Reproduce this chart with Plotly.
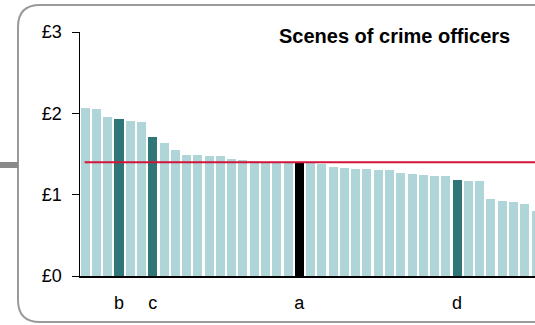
import plotly.graph_objects as go

values = [2.06, 2.05, 1.96, 1.93, 1.91, 1.89, 1.71, 1.63, 1.55, 1.49,
          1.49, 1.48, 1.47, 1.44, 1.43, 1.42, 1.405, 1.40, 1.40, 1.40,
          1.39, 1.38, 1.34, 1.325, 1.316, 1.31, 1.305, 1.30, 1.267, 1.255,
          1.246, 1.23, 1.226, 1.18, 1.17, 1.165, 0.947, 0.92, 0.91, 0.886,
          0.80]
highlight = {3: "#2e7677", 6: "#2e7677", 19: "#000000", 33: "#2e7677"}
label_pos = [3, 6, 19, 33]
label_text = ["b", "c", "a", "d"]
average = 1.40
title = "Scenes of crime officers"
ytick_vals = [0, 1, 2, 3]
ytick_text = ["£0", "£1", "£2", "£3"]

W, H = 535, 325
L, R_edge, T, B = 80, 535, 32, 276

xs = list(range(len(values)))
colors = [highlight.get(i, "#afd5d8") for i in xs]

fig = go.Figure()
fig.add_trace(go.Bar(x=xs, y=values, width=0.8, marker_color=colors,
                     marker_line_width=0, showlegend=False, hoverinfo="skip"))
fig.add_trace(go.Scatter(x=[-0.05, len(values) + 2], y=[average, average], mode="lines",
                         line=dict(color="#d3143a", width=2), showlegend=False,
                         hoverinfo="skip"))

def px2paper(x, y):
    return (x - L) / (R_edge - L), (B - y) / (B - T)

def P(x, y):
    px, py = px2paper(x, y)
    return f"{px:.5f},{py:.5f}"

# rounded border
x0, y0, x1, y1, r = 18, 5, 575, 322, 22
path = (f"M {P(x0 + r, y0)} L {P(x1 - r, y0)} Q {P(x1, y0)} {P(x1, y0 + r)} "
        f"L {P(x1, y1 - r)} Q {P(x1, y1)} {P(x1 - r, y1)} L {P(x0 + r, y1)} "
        f"Q {P(x0, y1)} {P(x0, y1 - r)} L {P(x0, y0 + r)} Q {P(x0, y0)} {P(x0 + r, y0)} Z")
fig.add_shape(type="path", path=path, xref="paper", yref="paper",
              line=dict(color="#9a9a9a", width=2), layer="below")
tx0, ty = px2paper(0, 165)
tx1, _ = px2paper(18, 165)
fig.add_shape(type="line", x0=tx0, x1=tx1, y0=ty, y1=ty, xref="paper", yref="paper",
              line=dict(color="#8a8a8a", width=6))

fig.add_annotation(text=f"<b>{title}</b>", xref="paper", yref="paper",
                   x=px2paper(394.5, 0)[0], y=px2paper(0, 36)[1], showarrow=False,
                   xanchor="center", yanchor="middle",
                   font=dict(size=20, color="#000000", family="Arial, Liberation Sans"))

fig.update_layout(
    width=W, height=H,
    margin=dict(l=L, r=0, t=T, b=H - B),
    paper_bgcolor="white", plot_bgcolor="white",
    bargap=0,
    font=dict(family="Arial, Liberation Sans", size=18, color="#000000"),
    xaxis=dict(range=[-0.46, 39.91], showgrid=False, zeroline=False,
               showline=True, linecolor="#000000", linewidth=1.5,
               tickmode="array", tickvals=label_pos, ticktext=label_text,
               ticks="outside", ticklen=10, tickcolor="rgba(0,0,0,0)",
               tickfont=dict(size=18)),
    yaxis=dict(range=[0, 3], showgrid=False, zeroline=False,
               showline=True, linecolor="#000000", linewidth=1.5,
               tickmode="array", tickvals=ytick_vals, ticktext=ytick_text,
               ticks="outside", ticklen=7, tickcolor="#000000",
               ticklabelstandoff=6,
               tickfont=dict(size=18)),
)

fig.write_html("out.html", config={"displayModeBar": False, "staticPlot": True},
               post_script="document.body.style.margin='0px';document.body.style.overflow='hidden';")
